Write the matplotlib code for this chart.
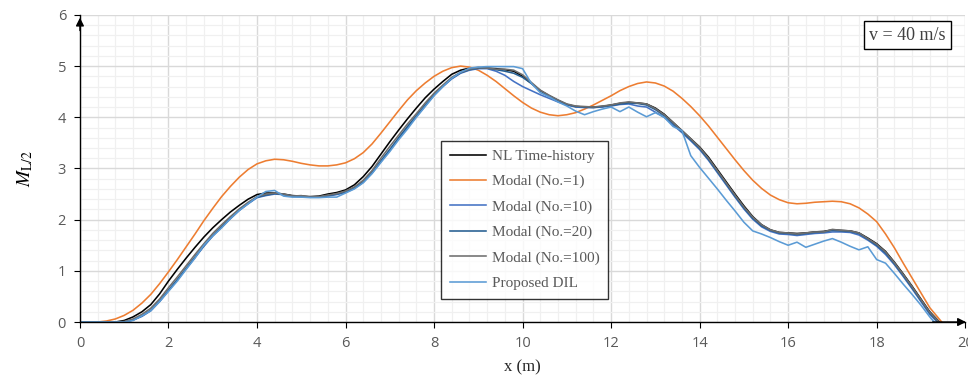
import numpy as np
import matplotlib
matplotlib.use("Agg")
import matplotlib.pyplot as plt
from matplotlib.ticker import MultipleLocator

# sample positions along the span (m)
x_pos = np.round(np.arange(0, 19.21, 0.2), 1)

# bending moment at mid-span
nl_time_history = [
    0, 0, 0, 0, 0, 0.03, 0.1, 0.2, 0.34, 0.55,
    0.8, 1.03, 1.25, 1.46, 1.66, 1.84, 2.0, 2.15, 2.28, 2.4,
    2.49, 2.52, 2.52, 2.5, 2.47, 2.46, 2.45, 2.46, 2.5, 2.53,
    2.58, 2.68, 2.84, 3.04, 3.28, 3.52, 3.75, 3.97, 4.18, 4.38,
    4.55, 4.7, 4.84, 4.92, 4.96, 4.97, 4.96, 4.95, 4.93, 4.9,
    4.8, 4.66, 4.52, 4.42, 4.33, 4.25, 4.21, 4.2, 4.2, 4.21,
    4.24, 4.27, 4.29, 4.28, 4.26, 4.18, 4.06, 3.9, 3.74, 3.58,
    3.42, 3.22, 2.98, 2.74, 2.5, 2.27, 2.06, 1.9, 1.8, 1.75,
    1.74, 1.73, 1.74, 1.76, 1.77, 1.8, 1.79, 1.78, 1.74, 1.64,
    1.53, 1.38, 1.17, 0.94, 0.7, 0.45, 0.2,
]
modal_1 = [
    0, 0, 0, 0.02, 0.06, 0.13, 0.23, 0.37, 0.54, 0.75,
    0.98, 1.22, 1.47, 1.72, 1.98, 2.22, 2.45, 2.65, 2.83, 2.98,
    3.09, 3.15, 3.18, 3.17, 3.14, 3.1, 3.07, 3.05, 3.05, 3.07,
    3.11, 3.19, 3.31, 3.48, 3.69, 3.91, 4.13, 4.34, 4.52, 4.67,
    4.8, 4.9, 4.97, 5.0, 4.98, 4.92, 4.82, 4.7, 4.56, 4.42,
    4.29, 4.18, 4.1, 4.05, 4.03, 4.05, 4.09, 4.16, 4.24, 4.33,
    4.42, 4.52, 4.6, 4.66, 4.69, 4.67, 4.61, 4.51, 4.37, 4.21,
    4.03, 3.83, 3.61, 3.39, 3.17, 2.96, 2.77, 2.61, 2.48, 2.39,
    2.33, 2.31, 2.32, 2.34, 2.35, 2.36, 2.35, 2.31, 2.23, 2.11,
    1.96, 1.72, 1.45, 1.15, 0.86, 0.57, 0.28,
]
modal_10 = [
    0, 0, 0, 0, 0, 0, 0.04, 0.11, 0.22, 0.4,
    0.61, 0.82, 1.04, 1.26, 1.48, 1.68, 1.85, 2.02, 2.18, 2.31,
    2.43, 2.47, 2.5, 2.49, 2.46, 2.45, 2.44, 2.44, 2.46, 2.49,
    2.53, 2.61, 2.73, 2.91, 3.13, 3.35, 3.58, 3.8, 4.01, 4.22,
    4.43, 4.6, 4.75, 4.86, 4.92, 4.95, 4.95, 4.9, 4.82, 4.7,
    4.6, 4.52, 4.44, 4.37, 4.3, 4.24, 4.2, 4.19, 4.19, 4.2,
    4.22, 4.25, 4.26, 4.22, 4.2, 4.1, 4.0, 3.85, 3.7, 3.54,
    3.37, 3.16, 2.92, 2.68, 2.44, 2.21, 2.01, 1.86, 1.77, 1.72,
    1.71, 1.69, 1.71, 1.73, 1.74, 1.76, 1.76, 1.75, 1.7, 1.6,
    1.48, 1.32, 1.12, 0.89, 0.65, 0.4, 0.15,
]
modal_20 = [
    0, 0, 0, 0, 0, 0, 0.04, 0.12, 0.23, 0.41,
    0.62, 0.83, 1.05, 1.27, 1.49, 1.69, 1.86, 2.03, 2.19, 2.32,
    2.44, 2.48, 2.51, 2.49, 2.46, 2.45, 2.44, 2.44, 2.47, 2.5,
    2.54, 2.62, 2.74, 2.92, 3.15, 3.37, 3.6, 3.82, 4.03, 4.24,
    4.44, 4.61, 4.76, 4.87, 4.93, 4.96, 4.96, 4.93, 4.9, 4.86,
    4.78, 4.66, 4.52, 4.42, 4.33, 4.25, 4.21, 4.2, 4.19, 4.21,
    4.23, 4.26, 4.28, 4.27, 4.24, 4.15, 4.03, 3.88, 3.72, 3.56,
    3.39, 3.18, 2.94, 2.7, 2.46, 2.23, 2.03, 1.88, 1.79, 1.74,
    1.73, 1.71, 1.73, 1.75, 1.76, 1.79, 1.78, 1.77, 1.73, 1.62,
    1.5, 1.35, 1.14, 0.91, 0.67, 0.42, 0.17,
]
modal_100 = [
    0, 0, 0, 0, 0, 0.01, 0.06, 0.15, 0.27, 0.45,
    0.67, 0.88, 1.1, 1.32, 1.53, 1.73, 1.9, 2.06, 2.21, 2.34,
    2.45, 2.5, 2.52, 2.5, 2.46, 2.47, 2.44, 2.45, 2.48, 2.51,
    2.56, 2.64, 2.77, 2.96, 3.2, 3.43, 3.65, 3.87, 4.07, 4.28,
    4.47, 4.63, 4.78, 4.88, 4.94, 4.97, 4.96, 4.94, 4.94, 4.92,
    4.83, 4.68, 4.53, 4.43, 4.34, 4.26, 4.22, 4.21, 4.2, 4.22,
    4.24, 4.28, 4.3, 4.28, 4.26, 4.17, 4.05, 3.9, 3.74, 3.58,
    3.41, 3.2, 2.96, 2.72, 2.48, 2.25, 2.05, 1.9, 1.8, 1.75,
    1.74, 1.72, 1.74, 1.76, 1.76, 1.81, 1.79, 1.78, 1.74, 1.63,
    1.52, 1.37, 1.16, 0.93, 0.69, 0.44, 0.19,
]
proposed_dil = [
    0, 0, 0, 0, 0, 0, 0.03, 0.12, 0.22, 0.4,
    0.6, 0.8, 1.03, 1.25, 1.5, 1.68, 1.84, 2.02, 2.18, 2.31,
    2.44, 2.55, 2.57, 2.46, 2.44, 2.44, 2.43, 2.43, 2.44, 2.44,
    2.52, 2.6, 2.72, 2.9, 3.12, 3.33, 3.56, 3.77, 4.0, 4.21,
    4.42, 4.6, 4.76, 4.88, 4.96, 4.98, 4.99, 4.99, 4.99, 4.99,
    4.95, 4.66, 4.48, 4.4, 4.3, 4.22, 4.12, 4.05, 4.11, 4.16,
    4.2, 4.11, 4.2, 4.1, 4.01, 4.09, 4.0, 3.82, 3.74, 3.25,
    3.02, 2.81, 2.6, 2.38, 2.17, 1.95, 1.78, 1.72, 1.65, 1.57,
    1.5, 1.56, 1.46, 1.52, 1.58, 1.63, 1.56, 1.48, 1.41, 1.47,
    1.22, 1.15, 0.95, 0.74, 0.54, 0.33, 0.1,
]

# x where each curve comes back to zero
end_x = {"nl": 19.42, "m1": 19.47, "m10": 19.37, "m20": 19.39, "m100": 19.41, "dil": 19.3}

series = [
    ("NL Time-history", nl_time_history, end_x["nl"], "#000000"),
    ("Modal (No.=1)", modal_1, end_x["m1"], "#ED7D31"),
    ("Modal (No.=10)", modal_10, end_x["m10"], "#4472C4"),
    ("Modal (No.=20)", modal_20, end_x["m20"], "#255E91"),
    ("Modal (No.=100)", modal_100, end_x["m100"], "#6E6E6E"),
    ("Proposed DIL", proposed_dil, end_x["dil"], "#5B9BD5"),
]

serif = ["Liberation Serif", "DejaVu Serif"]
plt.rcParams["font.family"] = ["Open Sans", "DejaVu Sans"]
plt.rcParams["mathtext.fontset"] = "stix"

fig = plt.figure(figsize=(9.68, 3.82), dpi=100)
ax = fig.add_axes([0.0826, 0.157, 0.9145, 0.804])

for label, vals, xe, color in series:
    xs = np.append(x_pos, xe)
    ys = np.append(vals, 0)
    ax.plot(xs, ys, color=color, lw=1.15, label=label)

ax.set_xlim(0, 20)
ax.set_ylim(0, 6)
ax.xaxis.set_major_locator(MultipleLocator(2))
ax.xaxis.set_minor_locator(MultipleLocator(0.4))
ax.yaxis.set_major_locator(MultipleLocator(1))
ax.yaxis.set_minor_locator(MultipleLocator(0.2))
ax.grid(which="major", color="#D9D9D9", lw=1.0)
ax.grid(which="minor", color="#F0F0F0", lw=0.9)
ax.set_axisbelow(True)

ax.tick_params(which="major", length=4, width=0.8, color="#000000",
               labelsize=10.5, labelcolor="#595959", pad=6)
ax.tick_params(which="minor", length=0)
for side in ["top", "right"]:
    ax.spines[side].set_visible(False)
for side in ["left", "bottom"]:
    ax.spines[side].set_color("#000000")
    ax.spines[side].set_linewidth(1.0)

# arrow heads on the axes
ax.annotate("", xy=(0, 1.0), xytext=(0, 0.94), xycoords="axes fraction",
            arrowprops=dict(arrowstyle="-|>", color="black", lw=1.0, mutation_scale=12),
            annotation_clip=False)
ax.annotate("", xy=(1.004, 0), xytext=(0.96, 0), xycoords="axes fraction",
            arrowprops=dict(arrowstyle="-|>", color="black", lw=1.0, mutation_scale=12),
            annotation_clip=False)

ax.set_xlabel("x (m)", family=serif, fontsize=12, color="#262626", labelpad=6)
ax.set_ylabel(r"$M_{\mathrm{L/2}}$", fontsize=14, color="#000000", labelpad=16)

leg = ax.legend(loc="upper left", bbox_to_anchor=(0.408, 0.59),
                prop={"family": serif, "size": 11}, frameon=True, fancybox=False,
                handlelength=2.4, handletextpad=0.35, labelspacing=0.76,
                borderpad=0.55, borderaxespad=0)
leg.get_frame().set_edgecolor("#000000")
leg.get_frame().set_linewidth(1.0)
for t in leg.get_texts():
    t.set_color("#595959")

ax.text(0.978, 0.962, "v = 40 m/s", transform=ax.transAxes, ha="right", va="top",
        family=serif, fontsize=13, color="#404040",
        bbox=dict(boxstyle="square,pad=0.3", fc="white", ec="#000000", lw=1.0))

fig.savefig("out.png", dpi=100)
